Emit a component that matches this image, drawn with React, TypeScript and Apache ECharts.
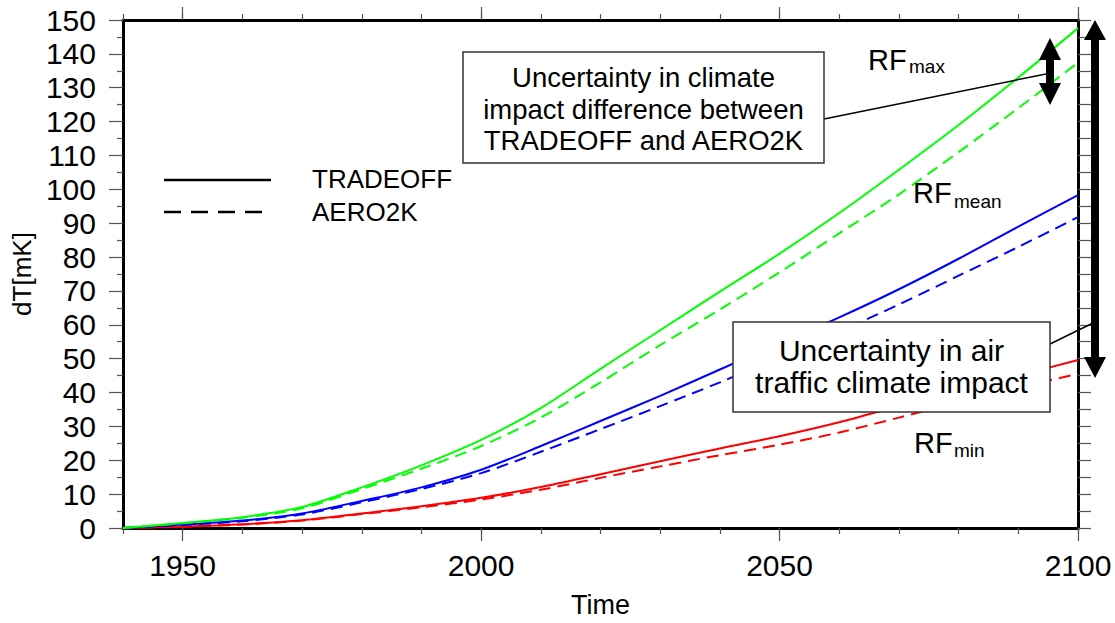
import React, { useEffect, useRef } from "react";
import * as echarts from "echarts";

const years = [1940, 1950, 1960, 1970, 1980, 1990, 2000, 2010, 2020, 2030, 2040, 2050, 2060, 2070, 2080, 2090, 2100];
const tradeoffMax = [0, 1.5, 3.2, 6.2, 12, 18.5, 26, 35.4, 47, 58.4, 69.8, 81, 93, 105.8, 119, 133, 147.6];
const aero2kMax = [0, 1.4, 3.0, 5.8, 11.5, 17.5, 24.2, 32.6, 43, 54, 64.5, 75.5, 87, 98.5, 111, 124, 137.4];
const tradeoffMean = [0, 1.0, 2.2, 4.3, 8.0, 12.0, 17.2, 24.2, 31.6, 39.0, 46.8, 54.5, 62.2, 70.5, 79.5, 89, 98.3];
const aero2kMean = [0, 0.9, 2.0, 4.0, 7.6, 11.5, 16.2, 22.5, 29.2, 36, 43, 50.5, 58, 66, 74.5, 83, 91.8];
const tradeoffMin = [0, 0.4, 1.1, 2.3, 4.3, 6.4, 8.9, 12.1, 15.9, 19.7, 23.5, 27.1, 31.2, 36, 40.5, 45, 49.6];
const aero2kMin = [0, 0.4, 1.0, 2.2, 4.1, 6.1, 8.4, 11.3, 14.8, 18.2, 21.5, 24.6, 28.2, 32.6, 37.2, 41.5, 45.5];

const xLabelValues = [1950, 2000, 2050, 2100];
const legendNames = ["TRADEOFF", "AERO2K"];

const FONT = "'Liberation Sans', Arial, sans-serif";
const TICK = "#555";

function pairs(vals: number[]) {
  return years.map((y, i) => [y, vals[i]]);
}

function lineSeries(name: string, vals: number[], color: string, dashed: boolean) {
  return {
    type: "line",
    name,
    xAxisIndex: 0,
    yAxisIndex: 0,
    data: pairs(vals),
    showSymbol: false,
    smooth: 0.3,
    lineStyle: { color, width: 2, type: dashed ? [12, 7] : "solid" },
    z: 3,
  };
}

function txt(text: string, x: number, y: number, size: number, align = "left") {
  return {
    type: "text",
    x,
    y,
    z: 100,
    style: { text, fill: "#000", font: `${size}px ${FONT}`, fontSize: size, fontFamily: FONT, align, verticalAlign: "middle" },
  };
}

export default function App() {
  const ref = useRef<HTMLDivElement>(null);
  useEffect(() => {
    if (!ref.current) return;
    const chart = echarts.init(ref.current, null, { renderer: "svg" });
    const frameLine = { show: true, lineStyle: { color: "#000", width: 3 } };
    const option: any = {
      animation: false,
      backgroundColor: "#fff",
      grid: { left: 123, right: 37, top: 20, bottom: 92, containLabel: false },
      xAxis: [
        {
          type: "value", position: "bottom", min: 1940, max: 2100, interval: 10,
          axisLine: frameLine,
          axisTick: { show: true, length: 6, lineStyle: { color: TICK, width: 1.2 } },
          axisLabel: {
            show: true, margin: 22, fontSize: 30, color: "#000", fontFamily: FONT,
            formatter: (v: number) => (xLabelValues.indexOf(v) >= 0 ? String(v) : ""),
          },
          splitLine: { show: false },
          name: "Time", nameLocation: "middle", nameGap: 63,
          nameTextStyle: { fontSize: 27, color: "#000", fontFamily: FONT },
        },
        {
          type: "value", position: "bottom", min: 1940, max: 2100, interval: 10,
          axisLine: { show: false },
          axisTick: { show: true, length: 13, customValues: xLabelValues, lineStyle: { color: TICK, width: 1.2 } },
          axisLabel: { show: false }, splitLine: { show: false },
        },
        {
          type: "value", position: "top", min: 1940, max: 2100, interval: 10,
          axisLine: frameLine,
          axisTick: { show: true, length: 6, lineStyle: { color: TICK, width: 1.2 } },
          axisLabel: { show: false }, splitLine: { show: false },
        },
        {
          type: "value", position: "top", min: 1940, max: 2100, interval: 10,
          axisLine: { show: false },
          axisTick: { show: true, length: 13, customValues: xLabelValues, lineStyle: { color: TICK, width: 1.2 } },
          axisLabel: { show: false }, splitLine: { show: false },
        },
      ],
      yAxis: [
        {
          type: "value", position: "left", min: 0, max: 150, interval: 10,
          axisLine: frameLine,
          axisTick: { show: true, length: 14, lineStyle: { color: TICK, width: 1.2 } },
          minorTick: { show: true, splitNumber: 2, length: 6, lineStyle: { color: TICK, width: 1.2 } },
          axisLabel: { show: true, margin: 27, fontSize: 30, color: "#000", fontFamily: FONT },
          splitLine: { show: false }, minorSplitLine: { show: false },
          name: "dT[mK]", nameLocation: "middle", nameGap: 87,
          nameTextStyle: { fontSize: 26, color: "#000", fontFamily: FONT },
        },
        {
          type: "value", position: "right", min: 0, max: 150, interval: 5,
          axisLine: frameLine,
          axisTick: { show: true, length: 13, lineStyle: { color: TICK, width: 1.2 } },
          axisLabel: { show: false }, splitLine: { show: false },
        },
      ],
      series: [
        lineSeries("TRADEOFF RFmin", tradeoffMin, "#ff0000", false),
        lineSeries("AERO2K RFmin", aero2kMin, "#ff0000", true),
        lineSeries("TRADEOFF RFmean", tradeoffMean, "#0000ff", false),
        lineSeries("AERO2K RFmean", aero2kMean, "#0000ff", true),
        lineSeries("TRADEOFF RFmax", tradeoffMax, "#00ff00", false),
        lineSeries("AERO2K RFmax", aero2kMax, "#00ff00", true),
      ],
      graphic: [
        // legend
        { type: "line", z: 100, shape: { x1: 164, y1: 180, x2: 271, y2: 180 }, style: { stroke: "#000", lineWidth: 2.5 } },
        { type: "line", z: 100, shape: { x1: 164, y1: 212, x2: 263, y2: 212 }, style: { stroke: "#000", lineWidth: 2.5, lineDash: [17, 10] } },
        txt(legendNames[0], 312, 179, 26),
        txt(legendNames[1], 312, 212, 26),
        // leader lines
        { type: "line", z: 99, shape: { x1: 824, y1: 119, x2: 1046, y2: 74 }, style: { stroke: "#000", lineWidth: 1.5 } },
        { type: "line", z: 99, shape: { x1: 1050, y1: 344, x2: 1093, y2: 323 }, style: { stroke: "#000", lineWidth: 1.5 } },
        // box 1
        { type: "rect", z: 100, shape: { x: 463, y: 52, width: 361, height: 111 }, style: { fill: "#fff", stroke: "#333", lineWidth: 1.5 } },
        txt("Uncertainty in climate", 643.5, 77.5, 27.5, "center"),
        txt("impact difference between", 643.5, 109.5, 27.5, "center"),
        txt("TRADEOFF and AERO2K", 643.5, 140.5, 27.5, "center"),
        // box 2
        { type: "rect", z: 100, shape: { x: 733, y: 322, width: 317, height: 90 }, style: { fill: "#fff", stroke: "#333", lineWidth: 1.5 } },
        txt("Uncertainty in air", 891.5, 350.6, 30, "center"),
        txt("traffic climate impact", 891.5, 382.6, 30, "center"),
        // arrows
        {
          type: "polygon", z: 101,
          shape: { points: [[1091, 40], [1084, 40], [1095, 20], [1106, 40], [1099, 40], [1099, 357], [1106, 357], [1095, 378], [1084, 357], [1091, 357]] },
          style: { fill: "#000" },
        },
        {
          type: "polygon", z: 101,
          shape: { points: [[1046, 60], [1039, 60], [1050, 38], [1061, 60], [1054, 60], [1054, 83], [1061, 83], [1050, 105], [1039, 83], [1046, 83]] },
          style: { fill: "#000" },
        },
        // RF labels
        txt("RF", 868, 60, 29),
        txt("max", 909, 66.8, 19),
        txt("RF", 913, 193, 29),
        txt("mean", 954, 201.5, 19),
        txt("RF", 914, 443, 29),
        txt("min", 954, 450.5, 19),
      ],
    };
    chart.setOption(option);
    return () => chart.dispose();
  }, []);
  return <div ref={ref} style={{ position: "fixed", left: 0, top: 0, width: 1115, height: 623, background: "#fff" }} />;
}
